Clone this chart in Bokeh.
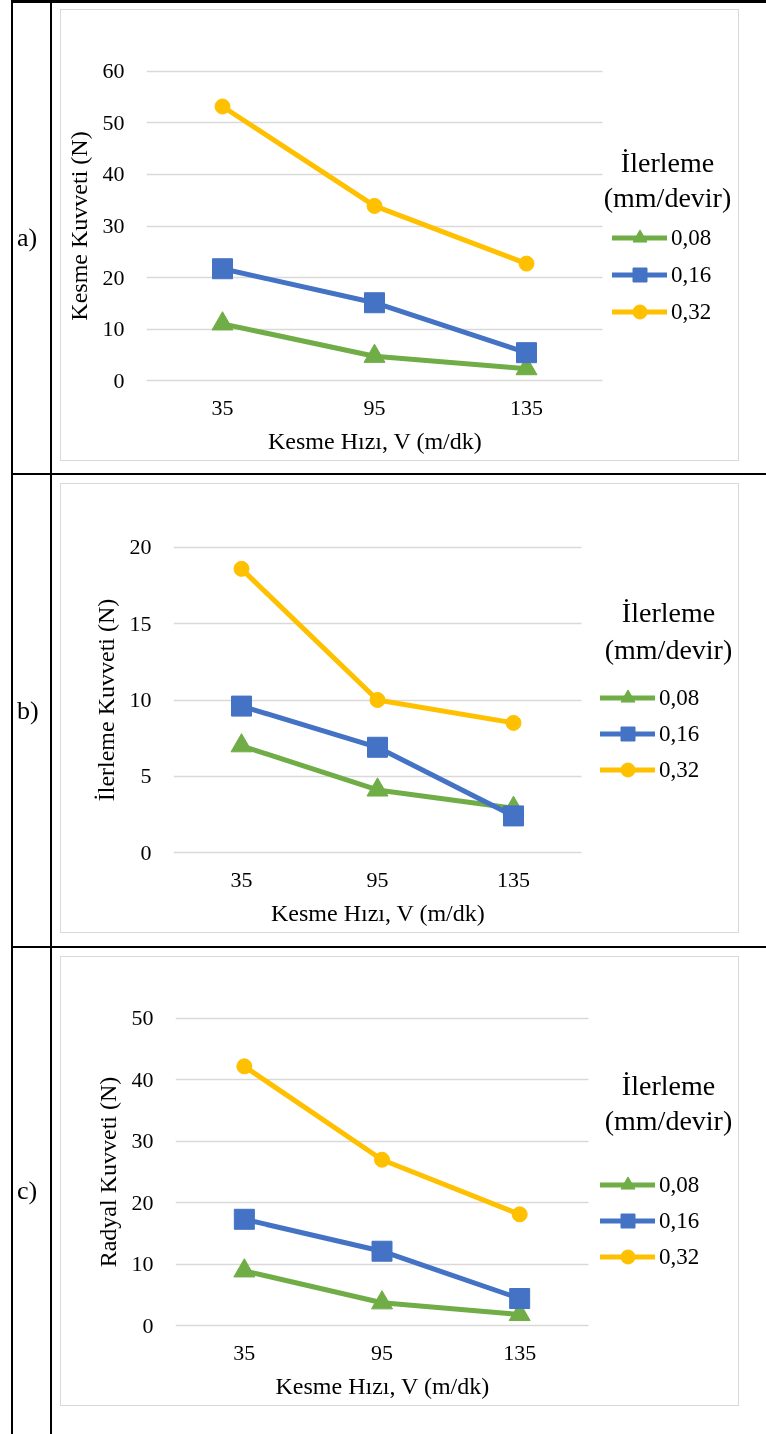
from bokeh.plotting import figure
from bokeh.models import Range1d, Legend, LegendItem, Label, Div, FixedTicker, Title
from bokeh.layouts import row, column
from bokeh.embed import file_html
from bokeh.resources import INLINE

# ---------------- data ----------------
speeds = ["35", "95", "135"]              # Kesme Hızı, V (m/dk)
feeds = ["0,08", "0,16", "0,32"]          # İlerleme (mm/devir)

cutting_008 = [11.0, 4.7, 2.3]
cutting_016 = [21.7, 15.1, 5.4]
cutting_032 = [53.2, 33.9, 22.7]

feedforce_008 = [7.0, 4.1, 2.9]
feedforce_016 = [9.6, 6.9, 2.4]
feedforce_032 = [18.6, 10.0, 8.5]

radial_008 = [8.9, 3.7, 1.8]
radial_016 = [17.3, 12.1, 4.4]
radial_032 = [42.2, 27.0, 18.1]

cutting_ticks = [0, 10, 20, 30, 40, 50, 60]
feedforce_ticks = [0, 5, 10, 15, 20]
radial_ticks = [0, 10, 20, 30, 40, 50]

# ---------------- styles ----------------
COLORS = ["#70AD47", "#4472C4", "#FFC000"]
MARKERS = ["triangle", "square", "circle"]
MSIZES = [21, 20, 15]
FONT = "Liberation Serif"
GRID = "#D9D9D9"
XTITLE = "Kesme Hızı, V (m/dk)"
XTITLE_W = 213   # rendered width of the x title at 24px

# category slots on a numeric axis: one unit per speed, centred at i + 0.5
xpos = [i + 0.5 for i in range(len(speeds))]
ncat = len(speeds)


def make_chart(ylabel, series, ticks, W, H, fl, plot_right, y_top, y_zero,
               leg_x, leg_top, leg_spacing, title_x, title_ys):
    ymax = ticks[-1]
    ppu = (y_zero - y_top) / ymax
    pad = 4
    ft = y_top - pad
    fb = y_zero + pad
    frame_w = W - fl
    cat_px = (plot_right - fl) / ncat
    p = figure(width=W, height=H,
               x_range=Range1d(0, frame_w / cat_px),
               y_range=Range1d(-pad / ppu, ymax + pad / ppu),
               min_border_left=fl, min_border_right=0,
               min_border_top=ft, min_border_bottom=H - fb,
               output_backend="svg", toolbar_location=None, tools="",
               margin=0,
               styles={"border": "1px solid #D9D9D9"})
    p.outline_line_color = None
    p.background_fill_color = "white"
    p.border_fill_color = "white"

    p.xgrid.grid_line_color = None
    grid = p.ygrid[0]
    grid.grid_line_color = GRID
    grid.grid_line_width = 1.3
    if "cross_bounds" in grid.properties():
        grid.cross_bounds = (0, ncat)

    p.yaxis.ticker = FixedTicker(ticks=ticks)
    p.xaxis.ticker = FixedTicker(ticks=xpos)
    p.xaxis.major_label_overrides = {x: s for x, s in zip(xpos, speeds)}
    p.xaxis.bounds = (0, ncat)
    for ax in (p.xaxis[0], p.yaxis[0]):
        ax.axis_line_color = None
        ax.major_tick_line_color = None
        ax.minor_tick_line_color = None
        ax.major_tick_out = 0
        ax.major_tick_in = 0
        ax.major_label_text_font = FONT
        ax.major_label_text_font_size = "22px"
        ax.major_label_text_color = "black"
        ax.axis_label_text_font = FONT
        ax.axis_label_text_font_size = "24px"
        ax.axis_label_text_font_style = "normal"
        ax.axis_label_text_color = "black"
    p.xaxis.major_label_standoff = 16
    p.yaxis.axis_label = ylabel
    p.yaxis.major_label_standoff = 22
    p.yaxis.axis_label_standoff = 8

    # x-axis title, centred under the three speed slots
    p.add_layout(Title(text=XTITLE, align="left",
                       offset=(plot_right - fl) / 2 - XTITLE_W / 2, standoff=17,
                       text_font=FONT, text_font_size="24px",
                       text_font_style="normal", text_color="black"), "below")

    items = []
    for label, vals, col, mk, ms in zip(feeds, series, COLORS, MARKERS, MSIZES):
        lr = p.line(xpos, vals, line_color=col, line_width=5,
                    line_join="round", line_cap="round")
        sr = p.scatter(xpos, vals, marker=mk, size=ms,
                       fill_color=col, line_color=col, line_width=1)
        items.append(LegendItem(label=label, renderers=[lr, sr]))

    gh = 35
    leg_h = 3 * gh + 2 * leg_spacing
    vy = fb - (leg_top + leg_h)
    legend = Legend(items=items, location=(leg_x - fl, vy),
                    orientation="vertical", padding=0, margin=0,
                    spacing=leg_spacing, glyph_width=55, glyph_height=gh,
                    label_height=20, label_standoff=4,
                    label_text_font=FONT, label_text_font_size="23px",
                    label_text_color="black",
                    border_line_color=None, background_fill_alpha=0)
    p.add_layout(legend)

    for txt, ty in zip(["İlerleme", "(mm/devir)"], title_ys):
        p.add_layout(Label(x=title_x - fl, y=fb - ty, x_units="screen", y_units="screen",
                           text=txt, text_align="center", text_baseline="middle",
                           text_font=FONT, text_font_size="28px", text_color="black"))
    return p


fig_a = make_chart("Kesme Kuvveti (N)", [cutting_008, cutting_016, cutting_032], cutting_ticks,
                   W=679, H=452, fl=85, plot_right=541, y_top=61, y_zero=371,
                   leg_x=551, leg_top=211, leg_spacing=2, title_x=606, title_ys=[153, 188])
fig_b = make_chart("İlerleme Kuvveti (N)", [feedforce_008, feedforce_016, feedforce_032], feedforce_ticks,
                   W=679, H=450, fl=112, plot_right=520, y_top=63, y_zero=369,
                   leg_x=539, leg_top=197, leg_spacing=1, title_x=607, title_ys=[129, 166])
fig_c = make_chart("Radyal Kuvveti (N)", [radial_008, radial_016, radial_032], radial_ticks,
                   W=679, H=450, fl=114, plot_right=527, y_top=61, y_zero=370,
                   leg_x=539, leg_top=212, leg_spacing=1, title_x=607, title_ys=[130, 165])


# ---------------- table frame ----------------
def vline(h):
    return Div(text="", width=2, height=h, margin=0, styles={"background-color": "black"})


def hline(h=2):
    return Div(text="", width=755, height=h, margin=0, styles={"background-color": "black"})


def spacer(w, h):
    return Div(text="", width=w, height=h, margin=0)


def cell_label(t, h):
    return Div(text=t, width=37, height=h, margin=0,
               styles={"font-family": FONT, "font-size": "26px", "line-height": f"{h}px",
                       "text-indent": "4px", "color": "black"})


def table_row(lbl, h, top_gap, fig):
    return row(vline(h), cell_label(lbl, h), vline(h), spacer(8, h),
               column(spacer(681, top_gap), fig, margin=0), margin=0)


root = column(hline(3),
              table_row("a)", 470, 6, fig_a),
              hline(),
              table_row("b)", 471, 8, fig_b),
              hline(),
              table_row("c)", 486, 8, fig_c),
              margin=0,
              styles={"position": "fixed", "top": "0px", "left": "11px"})

open("out.html", "w").write(file_html(root, INLINE))
